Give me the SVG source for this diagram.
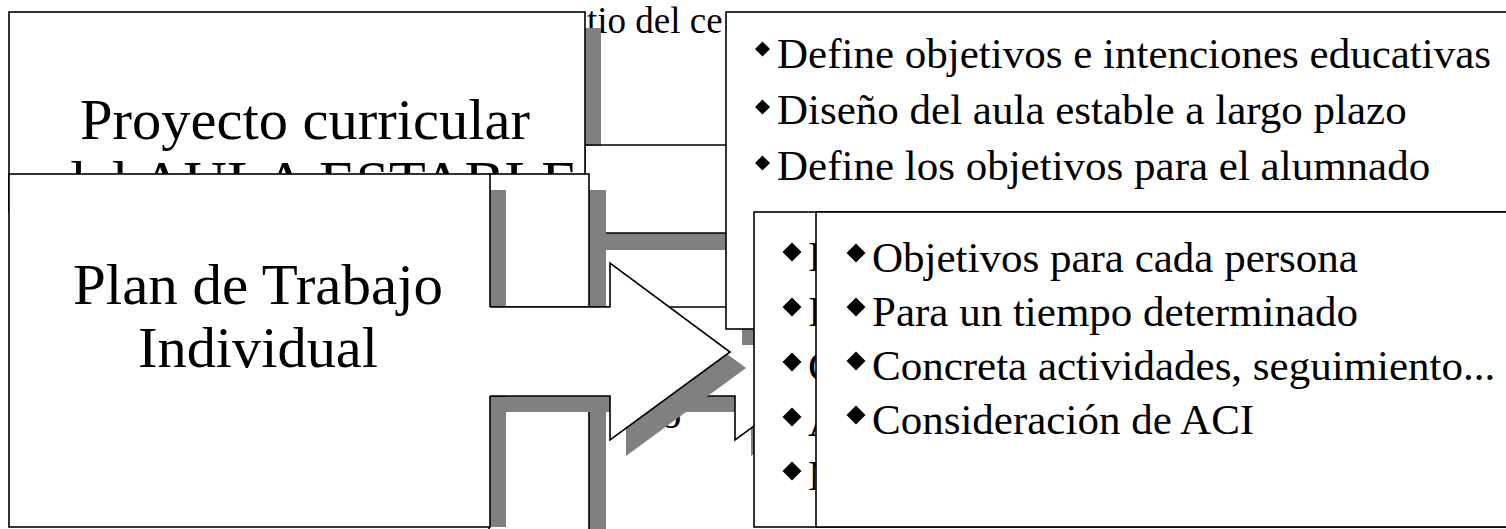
<svg xmlns="http://www.w3.org/2000/svg" width="1506" height="529" viewBox="0 0 1506 529">
<defs>
<style>
.bx{fill:#fff;stroke:#000;stroke-width:1.6}
.sh{fill:#808080}
.ln{fill:none;stroke:#000;stroke-width:1.6}
.wf{fill:#fff}
.big{font-family:'Liberation Serif','Times New Roman',serif;font-size:57px;fill:#000}
.bl{font-family:'Liberation Serif','Times New Roman',serif;font-size:43px;fill:#000}
.bg{font-family:'Liberation Serif','Times New Roman',serif;font-size:37px;fill:#000}
</style>
<polygon id="d1" points="0,-7.5 7.5,0 0,7.5 -7.5,0"/>
<polygon id="d2" points="0,-9.5 9.5,0 0,9.5 -9.5,0"/>
</defs>
<rect width="1506" height="529" fill="#fff"/>
<text class="bg" x="587" y="33">tio del ce</text>

<g id="proyecto-curricular">
<rect class="sh" x="25" y="28" width="576" height="200"/>
<rect class="bx" x="9" y="12" width="576" height="200"/>
<text class="big" x="80" y="139" textLength="450" lengthAdjust="spacingAndGlyphs">Proyecto curricular</text>
<text class="big" x="55" y="201" textLength="523" lengthAdjust="spacingAndGlyphs">del AULA ESTABLE</text>
</g>

<g id="connectors">
<g id="bloque-superior">
<rect class="wf" x="586" y="146" width="140" height="161"/>
<line class="ln" x1="585" y1="145" x2="726" y2="145"/>
</g>
<g id="bloque-s">
<rect class="sh" x="505" y="190" width="101" height="350"/>
<rect class="bx" x="489" y="174" width="100" height="370"/>
<rect class="sh" x="606" y="233" width="120" height="17"/>
<line class="ln" x1="606" y1="233" x2="726" y2="233"/>
</g>
</g>

<g id="plan-trabajo">
<rect class="sh" x="25" y="190" width="481" height="337"/>
<rect class="bx" x="9" y="174" width="481" height="353"/>
<text class="big" x="73" y="304" textLength="370" lengthAdjust="spacingAndGlyphs">Plan de Trabajo</text>
<text class="big" x="138" y="367" textLength="240" lengthAdjust="spacingAndGlyphs">Individual</text>
</g>

<g id="flecha-b">
<path class="sh" d="M506 323 H751 V279 L871 368 L751 456 V412 H506 Z"/>
<path class="wf" d="M488 307 H735 V263 L855 352 L735 440 V396 H488 Z"/>
<path class="ln" d="M490 307 H735 V263 L855 352 L735 440 V396 H490"/>
</g>

<g id="caja-aula">
<rect class="sh" x="742" y="28" width="800" height="317"/>
<rect class="bx" x="726" y="12" width="800" height="317"/>
<use href="#d1" x="762.5" y="49"/>
<text class="bl" x="777" y="68">Define objetivos e intenciones educativas</text>
<use href="#d1" x="762.5" y="107"/>
<text class="bl" x="777" y="124">Diseño del aula estable a largo plazo</text>
<use href="#d1" x="762.5" y="163"/>
<text class="bl" x="777" y="180">Define los objetivos para el alumnado</text>
</g>

<text class="bl" x="660" y="428">o</text>

<g id="flecha-a">
<path class="sh" d="M506 323 H626 V279 L746 368 L626 456 V412 H506 Z"/>
<path class="wf" d="M488 307 H610 V263 L730 352 L610 440 V396 H488 Z"/>
<path class="ln" d="M490 307 H610 V263 L730 352 L610 440 V396 H490"/>
</g>

<g id="caja-intermedia">
<rect class="bx" x="754" y="212" width="800" height="315"/>
<use href="#d2" x="792" y="252"/>
<text class="bl" x="808" y="271">I</text>
<use href="#d2" x="792" y="307"/>
<text class="bl" x="808" y="326">I</text>
<use href="#d2" x="792" y="362"/>
<text class="bl" x="808" y="381">C</text>
<use href="#d2" x="792" y="417"/>
<text class="bl" x="808" y="436">A</text>
<use href="#d2" x="792" y="471"/>
<text class="bl" x="808" y="490">M</text>
</g>

<g id="caja-plan">
<rect class="bx" x="816" y="212" width="800" height="315"/>
<use href="#d2" x="856" y="253"/>
<text class="bl" x="872" y="272">Objetivos para cada persona</text>
<use href="#d2" x="856" y="307"/>
<text class="bl" x="872" y="326">Para un tiempo determinado</text>
<use href="#d2" x="856" y="361"/>
<text class="bl" x="872" y="380">Concreta actividades, seguimiento...</text>
<use href="#d2" x="856" y="415"/>
<text class="bl" x="872" y="434">Consideración de ACI</text>
</g>
</svg>
